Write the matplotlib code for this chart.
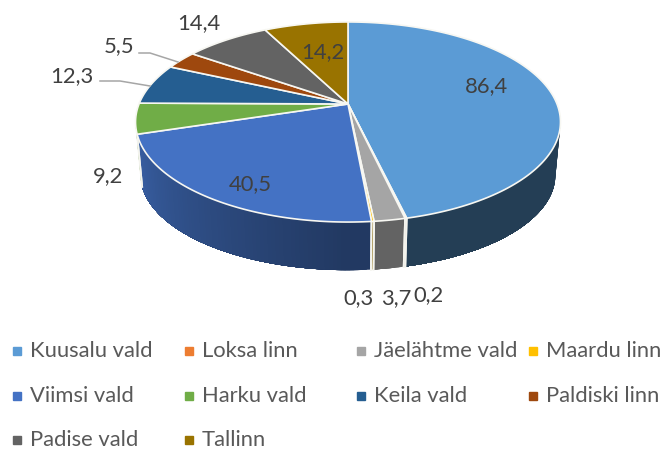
# Ringdiagramm 3D (perspektiiv) omavalitsuste kaupa
import numpy as np
import matplotlib
matplotlib.use("Agg")
import matplotlib.pyplot as plt
from matplotlib.colors import to_rgb

plt.rcParams['font.family'] = ['Lato', 'DejaVu Sans']

# Andmed
categories = ['Kuusalu vald', 'Loksa linn', 'Jäelähtme vald', 'Maardu linn', 'Viimsi vald',
              'Harku vald', 'Keila vald', 'Paldiski linn', 'Padise vald', 'Tallinn']
values = [86.4, 0.2, 3.7, 0.3, 40.5, 9.2, 12.3, 5.5, 14.4, 14.2]
value_labels = ['86,4', '0,2', '3,7', '0,3', '40,5', '9,2', '12,3', '5,5', '14,4', '14,2']
colors = ['#5B9BD5', '#ED7D31', '#A5A5A5', '#FFC000', '#4472C4',
          '#70AD47', '#255E91', '#9E480E', '#636363', '#997300']

W, H = 667, 451
CX, CY = 348, 104      # pealmise ketta keskpunkt
A, B, K = 209, 96.8, 0.18
CY2, A2, B2 = 158, 204, 92   # alumine ketas on perspektiivis vaiksem


def project(theta, cy=CY, a=A, b=B):
    # theta = nurk ulatusest kellaosuti suunas, radiaanides
    u, v = np.sin(theta), np.cos(theta)
    d = 1 + K * v
    return CX + a * u / d, cy - b * v / d


def wall_shade(t, col):
    if col == '#A5A5A5':
        return 0.6
    if t < np.pi:
        return 0.4 if col == '#5B9BD5' else 0.5
    return 0.5 + 0.36 * (t - np.pi) / (theta_left - np.pi)


fig = plt.figure(figsize=(W / 100, H / 100), dpi=100)
ax = fig.add_axes([0, 0, 1, 1])
ax.set_xlim(0, W)
ax.set_ylim(H, 0)
ax.axis('off')

edges = np.concatenate([[0], np.cumsum(values)]) / np.sum(values) * 2 * np.pi
theta_right = np.pi - np.arccos(K)   # nahtava kulje algus
theta_left = np.pi + np.arccos(K)    # nahtava kulje lopp

# Kulg: iga riba ulatub sektori loppu, siis ribade vahele ei jaa triipe
for i, col in enumerate(colors):
    t0, t1 = max(edges[i], theta_right), min(edges[i + 1], theta_left)
    if t1 <= t0:
        continue
    base = np.array(to_rgb(col))
    for a in np.linspace(t0, t1, max(int((t1 - t0) * 60), 1), endpoint=False):
        tt = np.linspace(a, t1, 40)
        x, y = project(tt)
        x2, y2 = project(tt, CY2, A2, B2)
        ax.fill(np.r_[x, x2[::-1]], np.r_[y, y2[::-1]],
                color=tuple(base * wall_shade(a, col)), lw=0, zorder=2)
    for t in (t0, t1):
        if t in (theta_right, theta_left):
            continue
        x, y = project(np.array([t]))
        x2, y2 = project(np.array([t]), CY2, A2, B2)
        ax.plot([x[0], x2[0]], [y[0], y2[0]], color='#f4f4ee', lw=1.3, zorder=3)

# Pealmine ketas
for i, col in enumerate(colors):
    tt = np.linspace(edges[i], edges[i + 1], max(int((edges[i + 1] - edges[i]) * 60), 2) + 1)
    x, y = project(tt)
    ax.fill(np.r_[CX, x], np.r_[CY, y], facecolor=col, edgecolor='#f7f7f2', lw=1.2, zorder=4)

# Vaartused
label_pos = [(487, 86), (428, 295), (396, 298), (359, 298), (250, 184),
             (108, 176), (72, 76), (119, 46), (199, 23), (323, 52)]
for lab, (px, py) in zip(value_labels, label_pos):
    ax.text(px, py, lab, fontsize=15.8, color='#404040', ha='center', va='center', zorder=6)

# Juhtjooned
ax.plot([139, 150, 178], [53, 53, 62], color='#a6a6a6', lw=1.1, zorder=5)
ax.plot([100, 120, 150], [81, 81, 86], color='#a6a6a6', lw=1.1, zorder=5)

# Legend
col_x = [17, 189, 361, 533]
row_y = [351, 396, 440]
for i, (name, col) in enumerate(zip(categories, colors)):
    lx, ly = col_x[i % 4], row_y[i // 4]
    ax.plot([lx], [ly], marker='s', ms=5.8, color=col, ls='none', zorder=5)
    ax.text(lx + 13, ly, name, fontsize=15.8, color='#595959', ha='left', va='center', zorder=5)

fig.savefig('out.png', dpi=100)
